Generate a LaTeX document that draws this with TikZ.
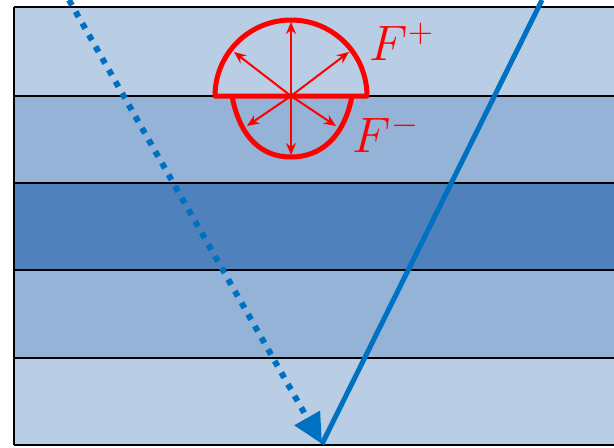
\documentclass[tikz,border=0pt]{standalone}
\usetikzlibrary{arrows.meta}
\definecolor{bandlight}{HTML}{B9CDE5}
\definecolor{bandmid}{HTML}{95B3D7}
\definecolor{banddark}{HTML}{4F81BD}
\definecolor{rayblue}{HTML}{0070C0}
\definecolor{fred}{HTML}{FF0000}
\tikzset{
  band/.style={draw=black, line width=1pt},
  flux/.style={fred, line width=1pt, -{Stealth[length=6pt,width=5pt]}},
  lobe/.style={fred, line width=2.5pt, line join=round},
  ray/.style={rayblue, line width=2.5pt},
  dotray/.style={rayblue, line width=3pt, dash pattern=on 3pt off 3.7pt, -{Triangle[length=15pt,width=14pt]}},
  flabel/.style={text=fred, font=\fontsize{27}{32}\selectfont, inner sep=0pt}
}
\begin{document}
\begin{tikzpicture}[x=0.5pt,y=-0.5pt]
\useasboundingbox (0,0) rectangle (614,447);
% bands
\fill[bandlight] (14,7) rectangle (620,96);
\fill[bandmid] (14,96) rectangle (620,183);
\fill[banddark] (14,183) rectangle (620,270);
\fill[bandmid] (14,270) rectangle (620,358);
\fill[bandlight] (14,358) rectangle (620,445);
\foreach \y in {7,96,183,270,358,445} \draw[band] (14,\y) -- (620,\y);
\draw[band] (14,7) -- (14,445);
% rays
\coordinate (hit) at (322,444);
\coordinate (dtop) at (69,0);
\coordinate (stop) at (542,0);
\draw[dotray] (dtop) -- (hit);
\draw[ray] (stop) -- (hit);
% radiation pattern
\coordinate (c) at (291,96);
\coordinate (up) at (291,22);
\coordinate (ul) at (234,52);
\coordinate (ur) at (349,52);
\coordinate (dn) at (291,155);
\coordinate (dl) at (247,126);
\coordinate (dr) at (336,126);
\draw[lobe] (215,96) arc[start angle=180, end angle=360, radius=76] -- cycle;
\draw[lobe] (232,96) .. controls (240,138) and (262,157) .. (291,157) .. controls (320,157) and (344,138) .. (352,96);
\foreach \t in {up,ul,ur,dn,dl,dr} \draw[flux] (c) -- (\t);
\node[flabel] (fp) at (402,42) {$F^{+}$};
\node[flabel] (fm) at (386,133) {$F^{-}$};
\end{tikzpicture}
\end{document}
